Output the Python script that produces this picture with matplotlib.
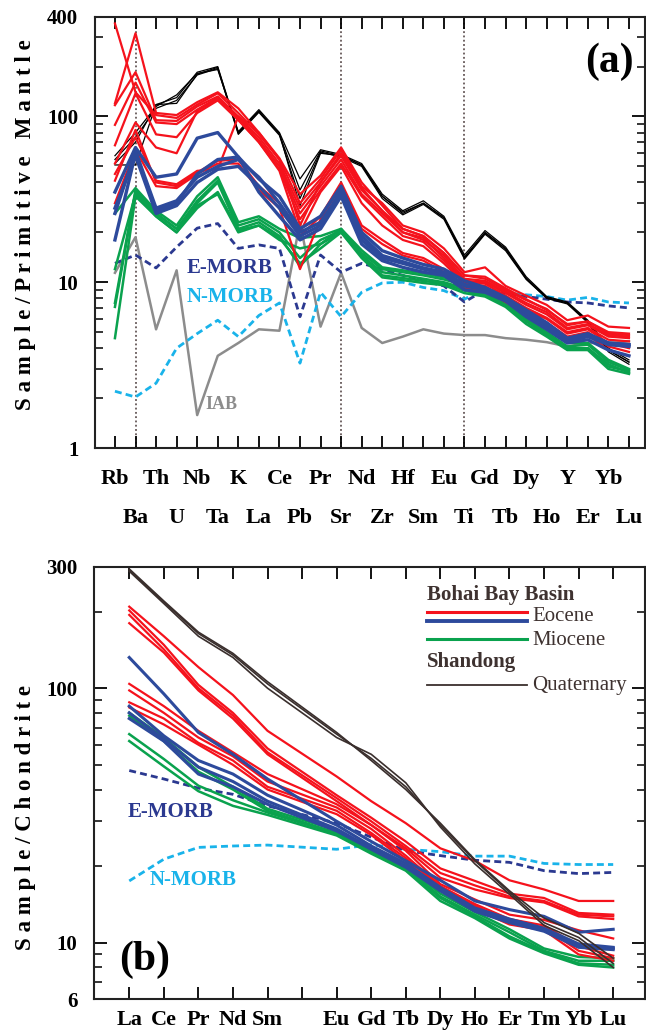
import matplotlib
matplotlib.use("Agg")
import matplotlib.pyplot as plt
from matplotlib.ticker import FixedLocator, NullFormatter, LogLocator

plt.rcParams['font.family'] = ['Liberation Serif', 'DejaVu Serif']
plt.rcParams['font.weight'] = 'bold'

# ---------------- data: primitive-mantle normalised spider diagram (a) ----------------
pm_elems = ["Rb", "Ba", "Th", "U", "Nb", "Ta", "K", "La", "Ce", "Pb", "Pr", "Sr", "Nd",
            "Zr", "Hf", "Sm", "Eu", "Ti", "Gd", "Tb", "Dy", "Ho", "Y", "Er", "Yb", "Lu"]

# Shandong Quaternary (black)
quat_a1 = [52, 70, 118, 130, 185, 200, 80, 108, 78, 36, 62, 58, 51, 33, 26, 30, 24.5, 14.2, 20, 16, 10.6, 8.1, 7.5, 5.8, 3.9, 3.3]
quat_a2 = [55, 75, 112, 125, 178, 195, 78, 106, 77, 32, 61, 57, 50, 32, 25.5, 29.5, 24, 13.8, 19.5, 15.5, 10.4, 8.0, 7.4, 5.7, 3.8, 3.2]
quat_a3 = [58, 80, 115, 135, 182, 192, 81, 110, 80, 42, 63, 59, 52, 34, 27, 31, 25, 14.6, 20.5, 16.3, 10.8, 8.2, 7.6, 5.9, 4.0, 3.4]
quat_a4 = [51, 51, 118, 120, 180, 198, 79, 107, 79, 29, 60, 58, 51, 33, 26.5, 30, 24.5, 14.0, 19.8, 15.8, 10.5, 8.0, 7.5, 5.8, 3.9, 3.3]

# Bohai Bay Basin Eocene (red)
eoc_a1 = [364, 140, 102, 98, 118, 138, 105, 78, 55, 30, 42, 63, 38, 30, 22, 20, 16, 11.5, 12.3, 9.5, 8.3, 7.3, 5.9, 6.3, 5.4, 5.3]
eoc_a2 = [120, 318, 105, 102, 122, 140, 112, 80, 56, 34, 44, 65, 40, 29, 21, 19, 15, 11, 10.5, 9.0, 7.8, 6.9, 5.5, 5.8, 4.9, 4.8]
eoc_a3 = [117, 185, 95, 94, 115, 132, 100, 75, 52, 28, 40, 58, 36, 27, 20, 18, 14.5, 10.5, 10.2, 8.8, 7.5, 6.6, 5.3, 5.6, 4.8, 4.7]
eoc_a4 = [89, 160, 92, 90, 110, 130, 98, 72, 50, 26, 38, 55, 34, 26, 20, 18.5, 14, 10.2, 10, 8.6, 7.3, 6.4, 5.2, 5.5, 4.7, 4.6]
eoc_a5 = [67, 138, 78, 75, 105, 125, 95, 70, 48, 24, 36, 52, 33, 25, 19, 17.5, 13.5, 10, 9.8, 8.3, 7.0, 6.1, 5.0, 5.3, 4.5, 4.4]
eoc_a6 = [52, 92, 65, 60, 108, 128, 96, 70, 47, 20, 35, 50, 30, 22, 18, 16.5, 13, 9.8, 9.5, 8.0, 6.8, 6.0, 4.9, 5.2, 4.3, 4.0]
eoc_a7 = [41, 83, 40, 38, 46, 54, 55, 38, 30, 19, 25, 40, 22, 18, 15, 14, 12, 9.5, 9.2, 7.8, 6.6, 5.7, 4.7, 5.0, 4.1, 3.8]
eoc_a8 = [30, 63, 38, 37, 45, 52, 52, 36, 28, 12, 24, 38, 21, 17, 14.5, 13.5, 11.5, 9.2, 9.0, 7.6, 6.4, 5.5, 4.5, 4.8, 3.9, 3.6]
eoc_a9 = [45, 75, 41, 39, 47, 48, 100, 80, 55, 22, 40, 60, 37, 27, 21, 19, 15, 11, 10.8, 9.2, 7.9, 6.8, 5.6, 5.8, 5.0, 4.9]

# Bohai Bay Basin Eocene (blue)
eob_a1 = [35, 65, 43, 45, 74, 80, 57, 42, 33, 21, 25, 38, 20, 15.5, 14, 12.8, 12, 10.2, 9.3, 8.1, 6.8, 5.7, 4.6, 4.9, 4.3, 4.2]
eob_a2 = [26, 62, 28, 31, 43, 50, 55, 43, 30, 20, 23, 35, 18, 14, 13, 12, 11.3, 9.5, 9.0, 7.9, 6.5, 5.4, 4.4, 4.7, 4.2, 4.1]
eob_a3 = [18, 60, 27, 30, 45, 55, 57, 35, 25, 18, 21, 33, 17, 13.5, 12.3, 11.5, 11, 9.0, 8.7, 7.7, 6.2, 5.2, 4.3, 4.5, 3.9, 3.6]
eob_a4 = [28, 58, 26, 29, 40, 48, 50, 38, 28, 19, 22, 36, 19, 14.5, 13.3, 12.2, 11.5, 9.7, 9.1, 8.0, 6.6, 5.5, 4.4, 4.8, 4.3, 4.2]

# Bohai Bay Basin Miocene (green)
mio_a1 = [26, 37, 27, 22, 33, 43, 23, 25, 21, 18.5, 19, 21, 15.6, 12.3, 11.8, 11.3, 10.7, 9.9, 8.6, 7.8, 6.2, 5.2, 4.3, 4.3, 3.4, 3.0]
mio_a2 = [7.1, 35, 26, 21, 31, 41, 22, 24, 20, 14, 18, 20.5, 15, 12, 11.5, 11, 10.4, 9.6, 8.5, 7.6, 6.0, 5.0, 4.1, 4.2, 3.3, 2.95]
mio_a3 = [4.6, 33, 25, 20, 30, 40, 21, 23, 19, 12.5, 17, 20, 14.5, 11.5, 11, 10.5, 10, 9.2, 8.4, 7.4, 5.9, 4.9, 4.0, 4.0, 3.1, 2.9]
mio_a4 = [12, 34, 25, 20, 28, 35, 20.6, 22, 18.5, 13, 16, 20, 14, 10.7, 10.3, 9.9, 9.6, 8.6, 8.2, 7.1, 5.6, 4.7, 3.9, 3.9, 3.0, 2.8]
mio_a5 = [7.5, 36, 26, 21, 29, 34, 20, 22, 18, 16, 17, 21, 14.5, 11, 10.6, 10.2, 9.8, 8.9, 8.3, 7.3, 5.8, 4.8, 3.95, 4.0, 3.2, 2.85]

# reference compositions
emorb_a = [13, 14.6, 12.2, 16.3, 21.2, 22.6, 16, 16.8, 16, 6.2, 14.6, 11.5, 13, 12, 11, 10.2, 9.5, 7.6, 9.0, 8.5, 8.2, 7.9, 7.6, 7.5, 7.2, 7.0]
nmorb_a = [2.2, 2.03, 2.46, 4.0, 4.9, 5.9, 4.7, 6.3, 7.5, 3.25, 8.7, 6.2, 8.7, 9.9, 10, 9.3, 8.9, 7.9, 9.2, 8.6, 8.4, 8.2, 7.8, 8.1, 7.6, 7.5]
iab_a = [11.4, 18.7, 5.2, 11.8, 1.58, 3.6, 4.3, 5.2, 5.1, 23, 5.4, 11.4, 5.3, 4.3, 4.7, 5.2, 4.9, 4.8, 4.8, 4.6, 4.5, 4.35, 4.1, 4.3, 4.3, 4.4]

# ---------------- data: chondrite-normalised REE (b) ----------------
ree_ticks = ["La", "Ce", "Pr", "Nd", "Sm", "", "Eu", "Gd", "Tb", "Dy", "Ho", "Er", "Tm", "Yb", "Lu"]
ree = ["La", "Ce", "Pr", "Nd", "Sm", "Eu", "Gd", "Tb", "Dy", "Ho", "Er", "Tm", "Yb", "Lu"]

quat_b1 = [291, 218, 164, 135, 104, 66, 53, 41, 29, 21, 15.8, 12, 10.5, 8.3]
quat_b2 = [288, 215, 160, 132, 100, 64, 55, 42.5, 28.5, 20.4, 15.5, 11.7, 10.2, 8.0]
quat_b3 = [294, 220, 166, 137, 106, 67, 52, 40, 29.5, 21.2, 16.0, 12.5, 10.9, 8.7]

eoc_b1 = [209, 160, 121, 94, 68, 45, 36, 29.5, 23.5, 21, 17.6, 16.2, 14.6, 14.6]
eoc_b2 = [202, 148, 103, 80, 58, 38, 31, 25, 19.6, 17.5, 15.6, 15.0, 13.1, 12.9]
eoc_b3 = [194, 142, 100, 78, 56, 37, 30, 24, 18.8, 16.8, 15.2, 14.6, 12.9, 12.7]
eoc_b4 = [180, 138, 98, 76, 55, 36, 29, 23.5, 18.0, 16.2, 15.0, 14.4, 12.7, 12.4]
eoc_b5 = [104, 85, 68, 56, 46, 35, 29, 23, 17.0, 14.8, 12.9, 12.3, 11.2, 10.4]
eoc_b6 = [98, 80, 64, 54, 43, 34, 28, 22, 16.7, 14.2, 12.4, 11.7, 9.7, 8.9]
eoc_b7 = [88, 76, 61, 52, 41, 33, 27, 21.5, 16.5, 14.0, 12.1, 11.5, 9.3, 8.7]
eoc_b8 = [84, 72, 60, 50, 40, 32, 26.5, 21, 16.2, 13.6, 11.8, 11.2, 9.0, 8.5]

eob_b1 = [132, 95, 67, 55, 44, 30, 25, 21, 17.6, 14.6, 13.5, 12.7, 11, 11.3]
eob_b2 = [85, 65, 52, 46, 38, 29, 24, 20.5, 16.5, 13.7, 12.4, 11.4, 9.9, 9.6]
eob_b3 = [80, 63, 49, 43, 36, 28, 23.5, 20, 16.2, 13.5, 12.2, 11.2, 9.7, 9.5]
eob_b4 = [76, 62, 46, 41, 35, 27.5, 23.3, 19.8, 16.0, 13.3, 12.0, 11.1, 9.6, 9.4]

mio_b1 = [80, 64, 49, 41, 33.6, 27.6, 23.3, 20, 15.6, 13.2, 11.3, 9.5, 8.8, 8.7]
mio_b2 = [78, 62, 47, 40, 33, 27, 23, 19.7, 15.2, 12.9, 11.0, 9.3, 8.5, 8.5]
mio_b3 = [66, 52.7, 41.4, 36.3, 32.5, 26.8, 22.7, 19.4, 15.0, 12.7, 10.6, 9.2, 8.3, 8.2]
mio_b4 = [62, 49.3, 39.4, 34.5, 31.8, 26.4, 22.4, 19.2, 14.6, 12.5, 10.4, 9.1, 8.2, 8.0]

emorb_b = [47.5, 44, 40.5, 38.3, 34.5, 29.5, 26, 23, 22, 21.1, 20.7, 19.2, 18.7, 18.9]
nmorb_b = [17.5, 21.3, 23.7, 24.0, 24.2, 23.3, 24.3, 23.3, 22.8, 21.9, 21.9, 20.5, 20.3, 20.3]

# ---------------- style ----------------
RED = "#f5121c"
BLUE = "#2d4a9c"
GREEN = "#0aa24e"
BROWN = "#3a2f2d"
EMORB_C = "#2b3990"
NMORB_C = "#19b3ea"
GREY = "#8c8c8c"
TEXT_C = "#3e3230"

fig = plt.figure(figsize=(6.46, 10.32), dpi=100)
ax1 = fig.add_axes([95 / 646, 1 - 448 / 1032, 550 / 646, 431.3 / 1032])
ax2 = fig.add_axes([94 / 646, 1 - 999.3 / 1032, 551 / 646, 432.6 / 1032])

# ---- panel (a) ----
xa = list(range(len(pm_elems)))
for el in ["Ba", "Sr", "Ti"]:
    ax1.axvline(pm_elems.index(el), color="#4a3a3a", ls=(0, (1.2, 1.6)), lw=1.1, zorder=1)

ax1.plot(xa, iab_a, color=GREY, lw=1.8, zorder=2)
ax1.plot(xa, nmorb_a, color=NMORB_C, lw=2.0, ls=(0, (2.5, 1.5)), zorder=2)
ax1.plot(xa, emorb_a, color=EMORB_C, lw=2.0, ls=(0, (2.5, 1.5)), zorder=2)
for s in [quat_a1, quat_a2, quat_a3, quat_a4]:
    ax1.plot(xa, s, color="black", lw=0.9, zorder=3)
for s in [mio_a1, mio_a2, mio_a3, mio_a4, mio_a5]:
    ax1.plot(xa, s, color=GREEN, lw=1.8, zorder=4)
for s in [eoc_a1, eoc_a2, eoc_a3, eoc_a4, eoc_a5, eoc_a6, eoc_a7, eoc_a8, eoc_a9]:
    ax1.plot(xa, s, color=RED, lw=1.6, zorder=5)
for s in [eob_a1, eob_a2, eob_a3, eob_a4]:
    ax1.plot(xa, s, color=BLUE, lw=2.4, zorder=6)

ax1.set_yscale("log")
ax1.set_ylim(1, 400)
ax1.set_xlim(-0.97, 25.78)
ax1.yaxis.set_major_locator(FixedLocator([1, 10, 100, 400]))
ax1.set_yticklabels(["1", "10", "100", "400"])
ax1.yaxis.set_minor_locator(LogLocator(base=10, subs=range(2, 10)))
ax1.yaxis.set_minor_formatter(NullFormatter())
# element names alternate between two rows: even ones on major ticks, odd ones on minor ticks
ax1.set_xticks(xa[0::2], labels=pm_elems[0::2])
ax1.set_xticks(xa[1::2], labels=pm_elems[1::2], minor=True)

ax1.text(3.5, 12.2, "E-MORB", color=EMORB_C, fontsize=15, ha="left", va="center")
ax1.text(3.5, 8.1, "N-MORB", color=NMORB_C, fontsize=15, ha="left", va="center")
ax1.text(4.4, 1.82, "IAB", color=GREY, fontsize=13, ha="left", va="center")
ax1.text(0.936, 0.895, "(a)", transform=ax1.transAxes, fontsize=30, ha="center", va="center")

# ---- panel (b) ----
xb = [ree_ticks.index(e) for e in ree]
ax2.plot(xb, nmorb_b, color=NMORB_C, lw=2.0, ls=(0, (2.5, 1.5)), zorder=2)
ax2.plot(xb, emorb_b, color=EMORB_C, lw=2.0, ls=(0, (2.5, 1.5)), zorder=2)
for s in [mio_b1, mio_b2, mio_b3, mio_b4]:
    ax2.plot(xb, s, color=GREEN, lw=1.8, zorder=4)
for s in [eoc_b1, eoc_b2, eoc_b3, eoc_b4, eoc_b5, eoc_b6, eoc_b7, eoc_b8]:
    ax2.plot(xb, s, color=RED, lw=1.6, zorder=5)
for s in [eob_b1, eob_b2, eob_b3, eob_b4]:
    ax2.plot(xb, s, color=BLUE, lw=2.2, zorder=6)
for s in [quat_b1, quat_b2, quat_b3]:
    ax2.plot(xb, s, color=BROWN, lw=1.2, zorder=7)

ax2.set_yscale("log")
ax2.set_ylim(6, 300)
ax2.set_xlim(-1.02, 14.92)
ax2.yaxis.set_major_locator(FixedLocator([6, 10, 100, 300]))
ax2.set_yticklabels(["6", "10", "100", "300"])
ax2.yaxis.set_minor_locator(LogLocator(base=10, subs=range(2, 10)))
ax2.yaxis.set_minor_formatter(NullFormatter())
ax2.set_xticks(range(len(ree_ticks)))
ax2.set_xticklabels(ree_ticks)

ax2.text(-0.04, 32.5, "E-MORB", color=EMORB_C, fontsize=15, ha="left", va="center")
ax2.text(0.6, 17.6, "N-MORB", color=NMORB_C, fontsize=15, ha="left", va="center")
ax2.text(0.091, 0.091, "(b)", transform=ax2.transAxes, fontsize=30, ha="center", va="center")

# legend drawn by hand
lx0, lx1, tx = 0.604, 0.786, 0.795
ax2.text(lx0, 0.935, "Bohai Bay Basin", transform=ax2.transAxes, color=TEXT_C,
         fontsize=15, ha="left", va="center")
ax2.plot([lx0, lx1], [0.896, 0.896], transform=ax2.transAxes, color=RED, lw=2.2)
ax2.plot([lx0, lx1], [0.875, 0.875], transform=ax2.transAxes, color=BLUE, lw=2.8)
ax2.text(tx, 0.886, "Eocene", transform=ax2.transAxes, color=TEXT_C, fontsize=15,
         fontweight="normal", ha="left", va="center")
ax2.plot([lx0, lx1], [0.832, 0.832], transform=ax2.transAxes, color=GREEN, lw=2.2)
ax2.text(tx, 0.829, "Miocene", transform=ax2.transAxes, color=TEXT_C, fontsize=15,
         fontweight="normal", ha="left", va="center")
ax2.text(lx0, 0.780, "Shandong", transform=ax2.transAxes, color=TEXT_C,
         fontsize=15, ha="left", va="center")
ax2.plot([lx0, lx1], [0.7265, 0.7265], transform=ax2.transAxes, color=BROWN, lw=1.3)
ax2.text(tx, 0.725, "Quaternary", transform=ax2.transAxes, color=TEXT_C, fontsize=15,
         fontweight="normal", ha="left", va="center")

# ---- shared axis styling ----
for ax, pad in [(ax1, 15), (ax2, 8)]:
    for sp in ax.spines.values():
        sp.set_linewidth(1.5)
        sp.set_color("#222222")
    ax.tick_params(axis="x", which="major", direction="in", length=8.5, width=1.3,
                   top=True, bottom=True, labelsize=16, pad=pad)
    ax.tick_params(axis="y", which="major", direction="in", length=9.5, width=1.3,
                   left=True, right=True, labelsize=15, pad=12)
    ax.tick_params(axis="y", which="minor", direction="in", length=5.8, width=1.1,
                   left=True, right=True)
ax1.tick_params(axis="x", which="minor", direction="in", length=8.5, width=1.3,
                top=True, bottom=True, labelsize=16, pad=43)

fig.text(26 / 646, 1 - 225 / 1032, " ".join("Sample/Primitive Mantle"), rotation=90,
         fontsize=16.5, ha="center", va="center")
fig.text(26 / 646, 1 - 818 / 1032, " ".join("Sample/Chondrite"), rotation=90,
         fontsize=16.5, ha="center", va="center")

fig.savefig("out.png", dpi=100)
